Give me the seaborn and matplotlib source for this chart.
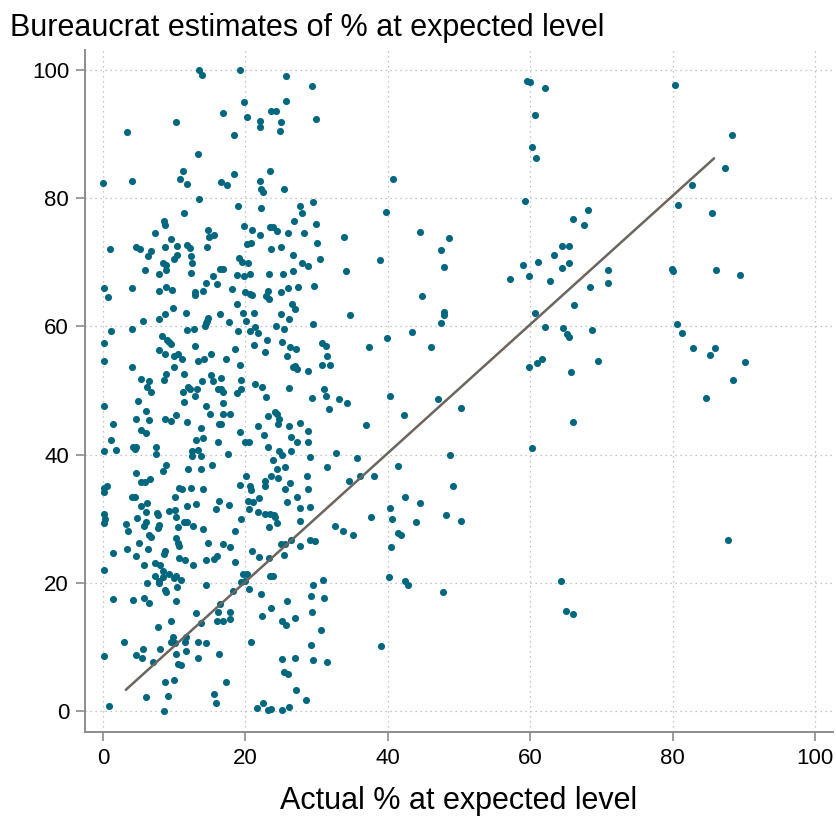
import matplotlib
matplotlib.use("Agg")
import matplotlib.pyplot as plt
import seaborn as sns
import pandas as pd

# Actual share of pupils at the expected level vs. bureaucrats' estimate of it
actual_pct = [
    # 0-16%, upper range
    13.5, 13.9, 10.3, 3.3, 13.4, 11.3, 0.0, 4.0, 10.8, 11.8, 13.5, 11.4, 8.5, 8.7, 7.3, 14.7,
    14.9, 15.6, 9.6, 1.0, 4.7, 5.2, 6.8, 6.3, 8.7, 10.4, 11.8, 12.2, 12.4, 10.4, 10.0, 14.6,
    12.5, 8.4, 8.9, 5.9, 8.8, 7.8, 12.3, 15.4, 16.4,
    # 16-31%, upper range
    19.3, 25.7, 29.4, 19.8, 25.7, 16.8, 20.2, 23.6, 24.3, 22.1, 25.0, 29.9, 22.1, 24.8, 18.4,
    23.5, 18.4, 16.6, 17.4, 22.0, 22.2, 22.5, 25.4, 19.0, 22.2, 27.7, 29.5, 28.0, 26.8, 29.9,
    19.8, 23.4, 23.9, 20.9, 24.4, 22.0, 26.0, 28.2, 20.2, 20.8, 30.0, 23.6, 25.0, 26.7, 19.1,
    19.5, 20.3, 16.8, 28.0, 28.8, 30.5, 18.8, 19.8, 20.6, 23.3, 25.3, 26.7,
    # 0-16%, middle range
    0.1, 0.7, 4.1, 7.8, 8.9, 9.7, 12.9, 12.9, 14.1, 14.4, 16.0, 9.8, 8.7, 7.9, 11.7, 5.6,
    4.1, 1.1, 14.7, 14.6, 14.5, 14.3, 11.8, 12.8, 16.4, 0.1, 8.3, 9.0, 9.2, 9.5, 12.9, 7.9,
    8.7, 10.0, 10.5, 11.1, 0.1, 13.3, 14.2, 15.1, 4.1, 9.9, 11.4, 8.9, 8.6, 5.4, 6.5, 6.2,
    6.8, 15.2, 15.4, 13.9, 12.0, 12.2, 13.2, 16.2, 11.2, 12.9, 4.9, 11.4, 0.1, 14.5, 6.0,
    15.0, 4.6, 6.4, 8.7, 9.5, 10.2, 11.8, 1.4, 5.3, 6.1, 13.8, 16.3, 1.1, 13.0, 14.1, 16.1,
    0.1, 1.8, 4.2, 4.5, 4.6, 7.4, 7.4, 12.5, 13.3, 12.5, 13.7, 8.9, 8.4, 12.0, 13.7, 4.7,
    5.3, 5.9, 6.6, 0.1, 0.6, 10.6, 11.1, 12.4, 14.1,
    # 16-33%, middle range
    18.1, 19.9, 20.6, 20.9, 22.9, 23.2, 23.3, 25.0, 26.0, 27.4, 29.6, 18.8, 26.6, 27.0, 19.6,
    21.2, 25.0, 26.1, 17.7, 20.1, 29.5, 19.0, 20.6, 21.4, 21.7, 24.3, 25.4, 23.0, 21.2, 25.2,
    26.3, 27.1, 30.8, 31.3, 18.5, 22.8, 31.4, 25.8, 17.2, 19.3, 26.7, 27.0, 27.3, 28.8, 30.8,
    31.9, 16.5, 19.4, 21.3, 22.3, 16.6, 16.8, 19.4, 18.8, 26.1, 31.0, 31.3, 22.9, 29.3, 33.2,
    16.8, 31.7, 16.9, 17.8, 23.1, 24.2, 24.4, 24.7, 24.5, 16.6, 21.8, 26.1, 27.6, 19.3, 22.6,
    26.4, 28.8, 19.9, 20.5, 23.2, 27.2, 28.8, 17.5, 24.7, 25.2, 26.4, 29.0, 32.7, 15.3, 23.8,
    31.4, 24.4, 25.5, 23.6, 24.6, 20.1, 26.3, 28.6, 19.3, 20.6, 22.8, 22.8, 25.5, 28.8,
    # 0-16%, lower range
    0.1, 4.0, 4.5, 6.2, 5.4, 6.0, 10.1, 11.8, 13.1, 16.3, 0.1, 0.3, 0.1, 3.2, 3.5, 4.8, 6.0,
    5.7, 7.6, 7.7, 9.2, 10.1, 10.3, 11.4, 11.8, 7.9, 7.7, 10.5, 12.7, 14.0, 15.8, 14.7, 6.4,
    6.7, 5.0, 10.2, 10.5, 10.7, 3.3, 6.3, 8.7, 8.5, 1.4, 4.6, 10.7, 11.5, 14.4, 15.6, 16.0,
    7.3, 8.0, 5.7, 12.7, 0.1, 8.4, 9.2, 7.3, 8.4, 9.9, 10.2, 10.9, 7.8, 7.9, 10.4, 8.7, 8.9,
    6.2, 14.4, 1.4, 4.2, 5.8, 6.4, 10.3, 13.1, 7.7, 9.5, 13.7, 16.0, 9.8, 9.5, 11.6, 11.5,
    10.1, 11.7, 13.4, 14.4, 3.0, 0.1, 4.7, 5.6, 5.5, 8.0, 7.0, 10.3, 10.5, 10.9, 13.4, 16.3,
    16.2, 8.7, 9.9, 6.1, 9.1, 15.6, 15.8, 0.9, 8.5,
    # 16-33%, lower range
    20.8, 17.7, 20.3, 21.1, 20.5, 21.9, 25.9, 27.2, 27.6, 29.0, 21.8, 22.7, 23.5, 24.0, 24.2,
    24.4, 23.3, 19.4, 27.7, 18.5, 32.6, 16.8, 17.8, 20.9, 25.0, 25.5, 26.4, 27.7, 29.1, 29.7,
    18.5, 21.9, 23.3, 25.4, 19.6, 20.2, 19.4, 19.9, 20.5, 23.5, 23.9, 18.3, 22.2, 25.9, 16.4,
    23.6, 30.9, 29.5, 29.2, 31.0, 29.4, 16.8, 17.9, 17.9, 22.3, 25.1, 25.7, 26.9, 30.6, 20.8,
    29.2, 25.2, 27.0, 29.5, 31.4, 25.4, 26.0, 17.2, 27.1, 28.5, 22.5, 21.6, 23.2, 23.6, 25.2,
    26.1,
    # 33-51%
    40.7, 39.8, 44.5, 33.9, 48.6, 47.5, 38.9, 34.1, 47.9, 57.2, 44.8, 34.7, 47.9, 47.9, 47.4,
    43.4, 39.9, 37.4, 46.0, 34.3, 40.3, 47.0, 42.3, 50.3, 36.9, 35.7, 48.7, 41.4, 34.5, 36.1,
    38.0, 49.1, 42.4, 44.5, 40.3, 37.6, 40.6, 43.9, 48.1, 50.2, 33.7, 35.1, 41.4, 41.9, 40.4,
    40.2, 42.4, 42.8, 47.8, 39.0,
    # 57-91%
    59.5, 59.9, 62.0, 80.3, 60.6, 60.3, 60.8, 88.3, 87.3, 82.7, 59.2, 80.8, 85.5, 68.1, 66.0,
    67.6, 64.4, 65.4, 63.3, 59.0, 61.1, 64.5, 65.4, 59.8, 62.8, 70.9, 70.9, 68.4, 79.9, 80.1,
    86.1, 89.5, 66.1, 60.6, 62.0, 64.6, 65.1, 65.4, 68.7, 80.6, 81.3, 82.9, 85.2, 85.9, 88.4,
    84.6, 59.8, 61.0, 61.6, 65.7, 69.5, 66.0, 90.1, 87.7, 60.3, 64.3, 65.0, 66.0,
]

bureaucrat_est = [
    100.0, 99.2, 91.9, 90.3, 86.9, 84.2, 82.4, 82.6, 83.0, 82.2, 79.9, 77.7, 76.4, 75.8, 74.5, 75.0,
    74.0, 74.2, 73.6, 72.1, 72.3, 72.0, 71.8, 71.0, 72.4, 72.5, 72.7, 72.2, 71.0, 71.1, 70.5, 72.4,
    69.9, 69.9, 69.6, 68.8, 68.8, 68.1, 68.3, 67.8, 69.0,
    100.0, 99.0, 97.5, 95.0, 95.2, 93.2, 92.7, 93.6, 93.6, 92.1, 91.8, 92.4, 91.1, 90.5, 89.8,
    84.2, 83.7, 82.5, 82.0, 82.6, 81.4, 80.9, 81.4, 78.7, 78.5, 78.7, 79.4, 77.6, 76.4, 76.0,
    75.6, 75.5, 75.5, 75.0, 74.8, 74.3, 74.5, 74.5, 72.8, 73.0, 73.0, 72.0, 72.3, 71.2, 70.7,
    70.0, 69.8, 69.0, 69.9, 69.4, 70.5, 68.0, 67.8, 68.1, 68.2, 68.2, 68.6,
    66.0, 64.6, 65.9, 65.5, 66.2, 65.6, 65.3, 64.9, 65.5, 66.7, 66.6, 62.8, 61.9, 61.2, 62.1, 60.8,
    59.6, 59.2, 61.3, 60.9, 60.5, 60.1, 59.4, 59.6, 61.9, 57.4, 58.5, 57.9, 57.6, 57.3, 57.0, 56.3,
    55.7, 55.4, 55.7, 54.9, 54.6, 54.6, 54.9, 55.7, 53.6, 53.6, 52.6, 52.5, 51.7, 51.8, 51.5, 50.6,
    49.8, 52.4, 51.5, 51.5, 50.6, 50.2, 50.2, 50.2, 49.7, 49.2, 48.4, 48.2, 47.5, 47.6, 46.8,
    46.4, 45.6, 45.4, 45.6, 45.3, 46.1, 45.0, 44.8, 43.8, 43.3, 44.2, 44.7, 42.3, 42.2, 42.6, 42.0,
    40.6, 40.7, 41.2, 40.9, 41.2, 41.2, 40.1, 40.5, 40.7, 39.8, 39.8, 38.4, 37.4, 37.8, 37.8, 37.1,
    35.7, 35.7, 36.2, 34.8, 35.1, 34.8, 34.6, 34.8, 34.7,
    65.8, 65.3, 65.0, 64.9, 64.8, 65.5, 64.2, 65.3, 65.9, 66.1, 66.3, 63.5, 63.5, 62.7, 62.1,
    62.1, 61.9, 61.1, 60.6, 60.9, 60.3, 59.3, 59.3, 59.9, 58.9, 60.0, 59.6, 57.9, 57.1, 57.5,
    56.7, 56.5, 57.4, 56.9, 56.5, 56.0, 55.3, 55.3, 54.9, 53.9, 53.7, 53.8, 53.4, 53.1, 53.9,
    53.9, 52.0, 51.6, 51.0, 50.5, 50.2, 49.8, 50.2, 49.6, 50.3, 50.2, 49.1, 48.9, 48.8, 48.6,
    48.1, 47.1, 46.3, 46.4, 46.0, 46.6, 46.3, 45.6, 44.8, 44.7, 44.4, 44.5, 44.9, 43.5, 43.1,
    42.8, 43.6, 41.9, 41.9, 41.2, 42.0, 42.0, 40.1, 40.5, 39.9, 40.6, 39.6, 40.2, 38.4, 39.1,
    38.1, 37.8, 38.1, 36.7, 36.4, 36.7, 35.6, 36.6, 35.3, 35.1, 35.8, 35.1, 34.7, 34.7,
    34.1, 33.4, 33.4, 32.5, 31.9, 31.0, 33.3, 31.9, 32.3, 32.8, 30.7, 30.0, 29.3, 29.1, 28.0, 30.1, 29.4,
    28.8, 30.9, 30.5, 31.2, 31.3, 30.3, 29.4, 29.5, 29.0, 28.6, 28.7, 28.9, 28.4, 31.5, 26.2, 27.5,
    27.1, 26.2, 27.0, 26.2, 25.7, 25.3, 25.3, 25.0, 24.5, 24.7, 24.2, 23.9, 23.6, 23.5, 23.7, 24.2,
    23.1, 22.7, 22.8, 22.7, 22.0, 21.8, 21.4, 21.0, 20.9, 20.8, 21.0, 20.5, 20.3, 20.0, 19.4, 18.9, 18.6,
    19.9, 19.7, 17.5, 17.3, 17.6, 16.9, 17.1, 15.3, 13.1, 14.1, 13.8, 14.1, 11.5, 10.7, 11.6, 10.8,
    10.6, 9.3, 10.7, 10.6, 10.8, 8.6, 8.7, 9.7, 8.2, 9.6, 7.6, 8.9, 7.4, 7.2, 8.3, 8.9,
    15.5, 4.5, 4.9, 2.2, 2.3, 2.7, 1.2, 0.7, 0.0,
    34.4, 32.1, 32.8, 32.6, 31.5, 33.2, 32.6, 33.4, 31.7, 31.8, 31.0, 30.8, 30.7, 30.6, 30.2,
    29.3, 28.7, 30.0, 29.6, 28.1, 28.9, 26.1, 25.6, 24.9, 26.0, 26.1, 26.6, 25.7, 26.7, 26.5,
    23.3, 24.0, 23.8, 24.3, 21.4, 21.4, 20.1, 20.2, 19.0, 21.1, 21.0, 18.7, 18.2, 17.2, 16.7,
    16.1, 20.4, 19.7, 17.9, 17.6, 15.4, 14.1, 15.5, 14.4, 14.8, 14.1, 13.4, 14.5, 12.6, 10.8,
    10.3, 8.1, 8.2, 7.9, 7.7, 6.1, 5.8, 4.5, 3.3, 1.7, 1.3, 0.4, 0.2, 0.3, 0.1,
    0.6,
    83.0, 77.8, 74.7, 74.0, 73.8, 71.9, 70.4, 68.7, 69.2, 67.4, 64.7, 61.8, 62.2, 61.8, 60.5,
    59.1, 58.2, 56.8, 56.8, 48.0, 49.2, 48.6, 46.2, 47.3, 44.6, 39.4, 39.9, 38.2, 35.8, 36.7,
    36.6, 35.1, 33.4, 32.5, 31.7, 30.3, 30.0, 29.4, 30.6, 29.7, 28.1, 27.4, 27.8, 27.4, 25.5,
    20.9, 20.2, 19.7, 18.6, 10.2,
    98.3, 98.1, 97.2, 97.6, 92.9, 88.0, 86.3, 89.9, 84.7, 82.1, 79.5, 79.0, 77.7, 78.2, 76.8,
    75.8, 72.5, 72.5, 71.1, 69.5, 70.1, 69.1, 69.8, 67.8, 67.0, 68.8, 66.7, 66.2, 69.0, 68.6,
    68.8, 68.0, 63.4, 62.0, 59.9, 59.8, 58.8, 58.4, 59.5, 60.4, 59.0, 56.6, 55.6, 56.6, 51.7,
    48.8, 53.7, 54.3, 54.9, 52.8, 54.6, 45.0, 54.5, 26.6, 41.0, 20.3, 15.6, 15.1,
]

# Reference line drawn across the range of the data
line_x = [3.2, 85.8]
line_y = [3.3, 86.2]

x_ticks = [0, 20, 40, 60, 80, 100]
y_ticks = [0, 20, 40, 60, 80, 100]

title = "Bureaucrat estimates of % at expected level"
x_label = "Actual % at expected level"

df = pd.DataFrame({"actual": actual_pct, "estimate": bureaucrat_est})
line_df = pd.DataFrame({"x": line_x, "y": line_y})

sns.set_theme(style="white")
plt.rcParams["font.family"] = ["Liberation Sans", "DejaVu Sans"]

point_color = "#00677F"
line_color = "#6B645F"
axis_gray = "#8C8C8C"

fig = plt.figure(figsize=(8.37, 8.17), dpi=100)
ax = fig.add_axes([85 / 837, 85 / 817, 748 / 837, 682 / 817])

sns.scatterplot(data=df, x="actual", y="estimate", ax=ax, color=point_color,
                s=26, linewidth=0, zorder=3)
sns.lineplot(data=line_df, x="x", y="y", ax=ax, color=line_color,
             linewidth=1.8, zorder=4)

ax.set_xlim(-2.53, 102.5)
ax.set_ylim(-3.28, 103.1)
ax.set_xticks(x_ticks)
ax.set_yticks(y_ticks)
ax.set_xticklabels([str(t) for t in x_ticks], fontsize=16)
ax.set_yticklabels([str(t) for t in y_ticks], fontsize=16)

ax.grid(True, color="#B4B4B4", linestyle=(0, (1, 3)), linewidth=0.9)
ax.set_axisbelow(True)

for side in ["top", "right"]:
    ax.spines[side].set_visible(False)
for side in ["left", "bottom"]:
    ax.spines[side].set_color(axis_gray)
    ax.spines[side].set_linewidth(1.4)

ax.tick_params(axis="both", which="major", direction="out", length=6.5,
               width=1.2, color=axis_gray, labelcolor="black", pad=5,
               bottom=True, left=True)

ax.set_xlabel(x_label, fontsize=22, labelpad=12, color="black")
ax.set_ylabel("")
fig.text(10 / 837, 1 - 28 / 817, title, fontsize=22, ha="left", va="center",
         color="black")

fig.savefig("out.png", dpi=100)
